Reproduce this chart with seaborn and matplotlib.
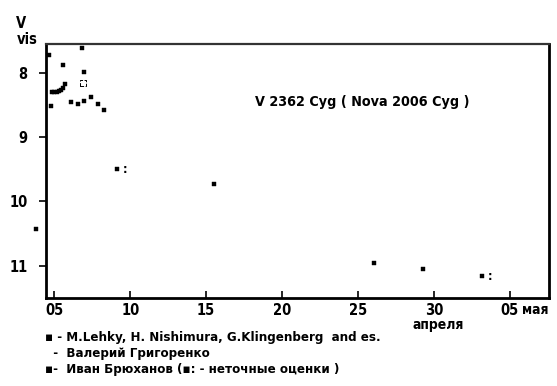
import matplotlib
matplotlib.use("Agg")
import matplotlib.pyplot as plt
import seaborn as sns
import pandas as pd

# --- data (day of April, visual magnitude) ---
lehky_day = [4.67, 5.59, 6.8, 6.98, 4.85, 5.0, 5.15, 5.3, 5.45, 5.6, 5.72, 4.76, 6.08, 6.58, 6.98, 7.42, 7.9, 8.27, 15.54, 26.06, 29.27]
lehky_mag = [7.72, 7.88, 7.62, 7.98, 8.30, 8.29, 8.29, 8.28, 8.26, 8.24, 8.18, 8.51, 8.46, 8.48, 8.43, 8.37, 8.48, 8.58, 9.73, 10.96, 11.05]
grig_day = [6.9]
grig_mag = [8.16]
bryukh_day = [9.15, 33.2, 3.8]
bryukh_mag = [9.50, 11.17, 10.43]
bryukh_uncertain = [True, True, False]

xticks = [5, 10, 15, 20, 25, 30, 35]
xticklabels = ["05", "10", "15", "20", "25", "30", "05"]
yticks = [8, 9, 10, 11]
yticklabels = ["8", "9", "10", "11"]

title = "V 2362 Cyg ( Nova 2006 Cyg )"
legend_lines = [
    "▪ - M.Lehky, H. Nishimura, G.Klingenberg  and es.",
    "  -  Валерий Григоренко",
    "▪-  Иван Брюханов (▪: - неточные оценки )",
]

sns.set_theme(style="white")
plt.rcParams["font.family"] = ["DejaVu Sans"]
plt.rcParams["font.stretch"] = "condensed"
plt.rcParams["font.weight"] = "bold"
plt.rcParams["text.color"] = "black"
plt.rcParams["xtick.color"] = "black"
plt.rcParams["ytick.color"] = "black"

fig = plt.figure(figsize=(5.57, 3.86), dpi=100)
ax = fig.add_axes([0.082, 0.2288, 0.9856 - 0.082, 0.886 - 0.2288])

df_l = pd.DataFrame({"day": lehky_day, "mag": lehky_mag})
df_g = pd.DataFrame({"day": grig_day, "mag": grig_mag})
df_b = pd.DataFrame({"day": bryukh_day, "mag": bryukh_mag})

sns.scatterplot(data=df_l, x="day", y="mag", ax=ax, marker="s", color="black",
                s=10, edgecolor="black", linewidth=0.3, clip_on=False)
sns.scatterplot(data=df_g, x="day", y="mag", ax=ax, marker="s", facecolor="none",
                s=18, edgecolor="black", linewidth=0.7, linestyle="--", clip_on=False)
sns.scatterplot(data=df_b, x="day", y="mag", ax=ax, marker="s", color="black",
                s=12, edgecolor="black", linewidth=0.3, clip_on=False)
for d, m, u in zip(bryukh_day, bryukh_mag, bryukh_uncertain):
    if u:
        ax.annotate(":", xy=(d, m), xytext=(4, 0), textcoords="offset points",
                    ha="left", va="center", fontsize=9, fontweight="bold")

ax.set_xlim(4.43, 37.59)
ax.set_ylim(11.5, 7.55)
ax.set_xticks(xticks)
ax.set_xticklabels(xticklabels)
ax.set_yticks(yticks)
ax.set_yticklabels(yticklabels)
ax.set_xlabel("")
ax.set_ylabel("")
ax.tick_params(axis="x", direction="in", length=5, width=1.2, labelsize=10.5, pad=4, bottom=True)
ax.tick_params(axis="y", direction="out", length=5, width=1.2, labelsize=10.5, pad=8, left=True)
for lab in ax.get_xticklabels() + ax.get_yticklabels():
    lab.set_fontweight("bold")
for sp in ax.spines.values():
    sp.set_color("black")
    sp.set_linewidth(2)
ax.spines["top"].set_linewidth(1.6)
ax.spines["top"].set_color("#333333")

ax.text(25.3, 8.45, title, ha="center", va="center", fontsize=10.3, fontweight="bold")

# axis label texts
fig.text(21 / 557, 1 - 24 / 386, "V", ha="center", va="center", fontsize=10.5, fontweight="bold")
fig.text(27 / 557, 1 - 40 / 386, "vis", ha="center", va="center", fontsize=10.5, fontweight="bold")
fig.text(522 / 557, 1 - 310 / 386, "мая", ha="left", va="center", fontsize=10, fontweight="bold")
fig.text(438 / 557, 1 - 325 / 386, "апреля", ha="center", va="center", fontsize=10, fontweight="bold")

ys = [338, 354, 369]
for y, t in zip(ys, legend_lines):
    fig.text(45 / 557, 1 - y / 386, t, ha="left", va="center", fontsize=9.5, fontweight="bold")

fig.savefig("out.png", dpi=100)
